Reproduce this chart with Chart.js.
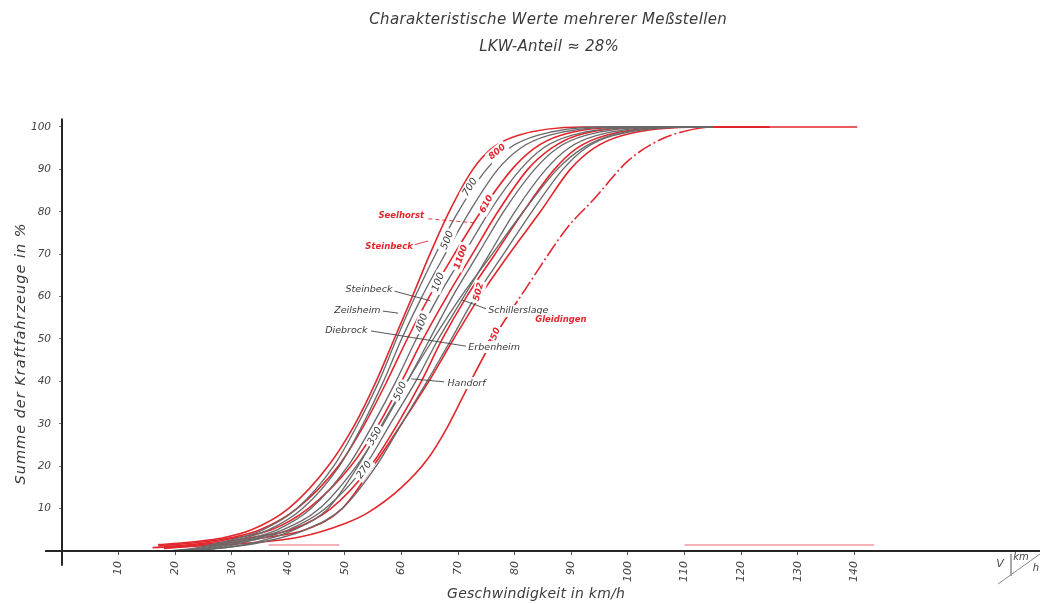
<!DOCTYPE html>
<html>
<head>
<meta charset="utf-8">
<title>Charakteristische Werte mehrerer Meßstellen</title>
<script src="https://cdn.jsdelivr.net/npm/chart.js@4.4.1/dist/chart.umd.min.js"></script>
<style>
  html, body { margin: 0; padding: 0; background: #ffffff; }
  canvas { display: block; }
</style>
</head>
<body>
<canvas id="chart" width="1040" height="604"></canvas>
<script>
// ---- Achsen ----
const speedTicks = [10, 20, 30, 40, 50, 60, 70, 80, 90, 100, 110, 120, 130, 140];
const shareTicks = [10, 20, 30, 40, 50, 60, 70, 80, 90, 100];

const titleLines = ['Charakteristische Werte mehrerer Meßstellen', 'LKW-Anteil ≈ 28%'];
const xTitle = 'Geschwindigkeit in km/h';
const yTitle = 'Summe der Kraftfahrzeuge in %';

// ---- Summenlinien [Geschwindigkeit km/h, Summe %] ----
const diebrock = [[19,0],[24,0.8],[28,2],[35.5,5],[41.5,10],[48,20],[52.3,30],[56,40],[59.1,50],[62.4,60],[66,70],[70,80],[75,90],[79,95],[84,98],[95,100],[112,100]];
const zeilsheim = [[20,0],[25,0.8],[29,2],[36.5,5],[42.5,10],[49,20],[53.2,30],[56.8,40],[60,50],[63.6,60],[67.7,70],[72,80],[77,90],[81,95],[86,98],[98,100],[112,100]];
const steinbeckGrau = [[21,0],[26,0.8],[30,2],[38,5],[44,10],[50.5,20],[55,30],[59,40],[62.6,50],[66.5,60],[71,70],[75.5,80],[81,90],[85,95],[90,98],[102,100],[115,100]];
const erbenheim = [[21,0],[27,0.8],[31,2],[39,5],[45.5,10],[52,20],[56.8,30],[61,40],[65,50],[69,60],[73.5,70],[78,80],[83.5,90],[87.5,95],[92.5,98],[105,100],[115,100]];
const schillerslage = [[22,0],[28,0.8],[32,2],[40,5],[46.5,10],[53.5,20],[58,30],[62.5,40],[66.5,50],[71,60],[75.5,70],[80,80],[85.5,90],[89.5,95],[94.5,98],[107,100],[115,100]];
const handorf = [[23,0],[29,0.8],[34,2],[41,5],[47,10],[52.3,20],[56.6,30],[61,40],[65.6,50],[70.5,60],[76,70],[81.5,80],[87.5,90],[92,95],[97,98],[110,100],[115,100]];
const grauWeitere = [[22,0],[30,1],[35,2],[43,5],[49.5,10],[55.5,20],[60,30],[64.5,40],[68.8,50],[73,60],[78,70],[83,80],[88.5,90],[92.5,95],[97.5,98],[111,100],[115,100]];

const steinbeckRot = [[17,1.5],[22,2],[28,3],[33.5,5],[40,10],[47,20],[51.8,30],[55.5,40],[58.7,50],[61.9,60],[65,70],[68.4,80],[72.6,90],[76,95],[80.5,98],[92,100],[125,100]];
const seelhorst = [[17,1.2],[24,2],[30,3.2],[35,5],[41.5,10],[48.8,20],[53.5,30],[57.4,40],[61,50],[64.9,60],[69.3,70],[74,80],[79.5,90],[83.5,95],[88,98],[100,100],[125,100]];
const rot610 = [[18,1],[26,2],[31,3.2],[37,5],[43.5,10],[51,20],[56,30],[60,40],[63.8,50],[68,60],[72.5,70],[77,80],[82.3,90],[86.5,95],[91,98],[104,100],[125,100]];
const rot502 = [[19,0.8],[28,2],[34,3.3],[40.5,5],[47.5,10],[54.5,20],[59.3,30],[63.5,40],[67.2,50],[71.5,60],[76.5,70],[81.5,80],[87,90],[91,95],[96,98],[109,100],[125,100]];
const rot270 = [[18,0.6],[30,2],[36,3.2],[43,5],[49.5,10],[55,20],[60,30],[64.8,40],[69.2,50],[73.8,60],[79,70],[84.5,80],[89.8,90],[94,95],[99,98],[113,100],[125,100]];
const gleidingen = [[16,0.8],[30,1.6],[42,3.3],[50,6.5],[54,9],[60,15],[64.5,21.5],[68,29],[72,39.5],[76.2,50],[79,56],[82,62],[85.7,69.5],[89.3,76.3],[94,83],[100,92],[105.7,97],[110,99],[115,100],[140.5,100]];

// blasse Linien am Fuß
const fussLinks = [[36.5,1.4],[49,1.4]];
const fussRechts = [[110,1.4],[143.5,1.4]];

// ---- Beschriftungen an den Linien [Text, km/h, %, Winkel] ----
const zahlenGrau = [['700',72.1,85.8,-58],['500',68.1,73.3,-68],['100',66.5,63.4,-70],['400',63.6,53.8,-72],['500',59.8,37.7,-66],['350',55.3,27.1,-60],['270',53.4,19.1,-55]];
const zahlenRot = [['800',76.9,94.1,-40],['610',75,81.8,-62],['1100',70.5,69.3,-70],['502',73.6,61.1,-75],['850',76.4,50.5,-68]];

// Namen [Text, km/h, %] und Hinweislinien [von km/h, %, bis km/h, %]
const namenGrau = [['Steinbeck',50.1,61.6],['Zeilsheim',48.1,56.6],['Diebrock',46.5,51.9],['Erbenheim',71.8,48.1],['Handorf',68.1,39.6],['Schillerslage',75.3,56.6]];
const namenRot = [['Seelhorst',55.9,79.0],['Steinbeck',53.6,71.7],['Gleidingen',83.6,54.5]];
const hinweiseGrau = [[58.7,61.3,65.1,59.0],[56.6,56.6,59.4,56.1],[54.6,51.9,71.4,48.3],[67.5,39.9,61.7,40.6],[75.0,57.1,70.7,59.2]];
const hinweiseRot = [[63.5,78.5,72.8,77.4],[60.8,71.7,64.7,73.1]];

const GRAY = '#6a6a6a';
const RED = '#e2262d';
const FONT = "'DejaVu Sans', 'Liberation Sans', sans-serif";

const lines = [
  { label: 'Diebrock', pts: diebrock, color: GRAY },
  { label: 'Zeilsheim', pts: zeilsheim, color: GRAY },
  { label: 'Steinbeck', pts: steinbeckGrau, color: GRAY },
  { label: 'Erbenheim', pts: erbenheim, color: GRAY },
  { label: 'Schillerslage', pts: schillerslage, color: GRAY },
  { label: 'Handorf', pts: handorf, color: GRAY },
  { label: 'weitere Meßstelle', pts: grauWeitere, color: GRAY },
  { label: 'Steinbeck (rot)', pts: steinbeckRot, color: RED },
  { label: 'Seelhorst', pts: seelhorst, color: RED },
  { label: '610', pts: rot610, color: RED },
  { label: '502', pts: rot502, color: RED },
  { label: '270', pts: rot270, color: RED },
  { label: 'Gleidingen', pts: gleidingen, color: RED, dashFrom: 54, dashTo: 99 }
];

const toXY = pts => pts.map(([v, p]) => ({ x: v, y: p }));

const datasets = lines.map(l => ({
  label: l.label,
  data: toXY(l.pts),
  borderColor: l.color,
  borderWidth: l.color === RED ? 1.6 : 1.35,
  pointRadius: 0,
  fill: false,
  cubicInterpolationMode: 'monotone',
  segment: l.dashFrom !== undefined
    ? { borderDash: c => (c.p0.parsed.y >= l.dashFrom && c.p0.parsed.y < l.dashTo ? [15, 3, 2, 3] : undefined) }
    : undefined
}));
[fussLinks, fussRechts].forEach(pts => datasets.push({
  label: 'Fußlinie',
  data: toXY(pts),
  borderColor: 'rgba(226,38,45,0.35)',
  borderWidth: 2,
  pointRadius: 0,
  fill: false
}));

function spacedText(ctx, text, x, y, target) {
  ctx.letterSpacing = '0px';
  const w0 = ctx.measureText(text).width;
  const ls = Math.max(0, (target - w0) / Math.max(1, text.length));
  ctx.letterSpacing = ls.toFixed(2) + 'px';
  ctx.fillText(text, x + ls / 2, y);
  ctx.letterSpacing = '0px';
}

function boxedText(ctx, text, x, y, angle, font, color, align) {
  ctx.save();
  ctx.translate(x, y);
  ctx.rotate(angle * Math.PI / 180);
  ctx.font = font;
  const w = ctx.measureText(text).width;
  const x0 = align === 'left' ? 0 : -w / 2;
  ctx.fillStyle = '#ffffff';
  ctx.fillRect(x0 - 2, -6, w + 4, 12);
  ctx.fillStyle = color;
  ctx.textAlign = align === 'left' ? 'left' : 'center';
  ctx.textBaseline = 'middle';
  ctx.fillText(text, 0, 0);
  ctx.restore();
}

const decor = {
  id: 'decor',
  afterDatasetsDraw(chart) {
    const { ctx } = chart;
    const xs = chart.scales.x, ys = chart.scales.y;
    const X = v => xs.getPixelForValue(v);
    const Y = p => ys.getPixelForValue(p);

    ctx.save();
    // Achsenlinien
    ctx.strokeStyle = '#262626';
    ctx.lineWidth = 2;
    ctx.beginPath();
    ctx.moveTo(X(-3), Y(0));
    ctx.lineTo(X(xs.max), Y(0));
    ctx.stroke();
    ctx.beginPath();
    ctx.moveTo(X(0), Y(ys.max));
    ctx.lineTo(X(0), Y(-3.5));
    ctx.stroke();

    // Hinweislinien
    ctx.lineWidth = 0.9;
    ctx.strokeStyle = '#444444';
    hinweiseGrau.forEach(([v1, p1, v2, p2]) => {
      ctx.beginPath(); ctx.moveTo(X(v1), Y(p1)); ctx.lineTo(X(v2), Y(p2)); ctx.stroke();
    });
    ctx.strokeStyle = RED;
    hinweiseRot.forEach(([v1, p1, v2, p2], i) => {
      ctx.setLineDash(i === 0 ? [4, 3] : []);
      ctx.beginPath(); ctx.moveTo(X(v1), Y(p1)); ctx.lineTo(X(v2), Y(p2)); ctx.stroke();
    });
    ctx.setLineDash([]);

    // Zahlen an den Linien
    zahlenGrau.forEach(([t, v, p, a]) => boxedText(ctx, t, X(v), Y(p), a, `italic 10px ${FONT}`, '#3a3a3a'));
    zahlenRot.forEach(([t, v, p, a]) => boxedText(ctx, t, X(v), Y(p), a, `italic bold 9px ${FONT}`, RED));

    // Namen der Meßstellen
    namenGrau.forEach(([t, v, p]) => boxedText(ctx, t, X(v), Y(p), 0, `italic 9.5px ${FONT}`, '#3a3a3a', 'left'));
    namenRot.forEach(([t, v, p]) => boxedText(ctx, t, X(v), Y(p), 0, `italic bold 8.5px ${FONT}`, RED, 'left'));

    // Titel
    ctx.fillStyle = '#3b3b3b';
    ctx.textAlign = 'center';
    ctx.textBaseline = 'middle';
    ctx.font = `italic 15px ${FONT}`;
    spacedText(ctx, titleLines[0], 548, 20, 358);
    spacedText(ctx, titleLines[1], 549, 47, 140);

    // Achsentitel
    ctx.font = `italic 14px ${FONT}`;
    spacedText(ctx, xTitle, 536, 594, 178);
    ctx.save();
    ctx.translate(21, 354);
    ctx.rotate(-Math.PI / 2);
    ctx.font = `italic 14.5px ${FONT}`;
    spacedText(ctx, yTitle, 0, 0, 262);
    ctx.restore();

    // Einheitenzeichen v [km/h]
    const ux = X(xs.max) - 40, uy = Y(0);
    ctx.fillStyle = '#444444';
    ctx.font = `italic 11px ${FONT}`;
    ctx.fillText('V', ux, uy + 13);
    ctx.strokeStyle = '#555555';
    ctx.lineWidth = 1;
    ctx.beginPath(); ctx.moveTo(ux + 11, uy + 3); ctx.lineTo(ux + 11, uy + 25); ctx.stroke();
    ctx.font = `italic 10px ${FONT}`;
    ctx.fillText('km', ux + 21, uy + 6);
    ctx.fillText('h', ux + 36, uy + 17);
    ctx.strokeStyle = '#8a8a8a';
    ctx.beginPath(); ctx.moveTo(ux - 2, uy + 33); ctx.lineTo(ux + 40, uy + 3); ctx.stroke();
    ctx.restore();
  }
};

new Chart(document.getElementById('chart'), {
  type: 'line',
  data: { datasets },
  options: {
    responsive: false,
    animation: false,
    devicePixelRatio: 1,
    layout: { padding: { top: 118.5, left: 0, right: 0, bottom: 0 } },
    plugins: { legend: { display: false }, tooltip: { enabled: false }, title: { display: false } },
    scales: {
      x: {
        type: 'linear',
        min: 0,
        max: 172.8,
        afterBuildTicks: s => { s.ticks = speedTicks.map(v => ({ value: v })); },
        afterFit: s => { s.height = 53; },
        grid: { drawOnChartArea: false, drawTicks: true, tickLength: 4, color: '#555555' },
        border: { display: false },
        ticks: {
          autoSkip: false,
          minRotation: 90,
          maxRotation: 90,
          padding: 6,
          color: '#444444',
          font: { family: FONT, size: 11, style: 'italic' }
        }
      },
      y: {
        type: 'linear',
        min: 0,
        max: 102,
        afterBuildTicks: s => { s.ticks = shareTicks.map(v => ({ value: v })); },
        afterFit: s => { s.width = 62; },
        grid: { drawOnChartArea: false, drawTicks: true, tickLength: 3, color: '#777777' },
        border: { display: false },
        ticks: {
          padding: 8,
          color: '#444444',
          font: { family: FONT, size: 10.5, style: 'italic' }
        }
      }
    }
  },
  plugins: [decor]
});
</script>
</body>
</html>
